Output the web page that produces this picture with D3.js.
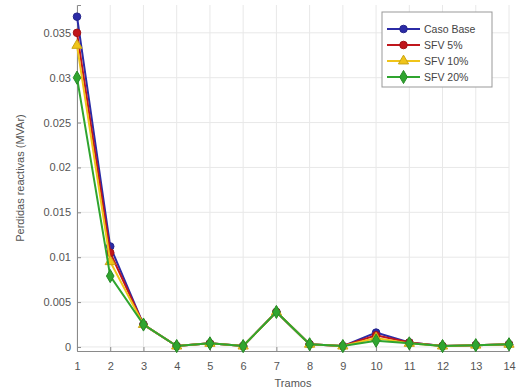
<!DOCTYPE html>
<html><head><meta charset="utf-8">
<script src="https://cdn.jsdelivr.net/npm/d3@7"></script>
<style>body{margin:0;background:#fff;} text{font-family:"Liberation Sans",Arial,sans-serif;}</style>
</head><body><svg id="c" width="519" height="389"></svg>
<script>
const tramos = [1,2,3,4,5,6,7,8,9,10,11,12,13,14];
const casoBase = [0.0368,0.0112,0.0025,0.0001,0.0004,0.0001,0.0039,0.0003,0.0001,0.0016,0.0005,0.0001,0.0002,0.0003];
const sfv5 =     [0.0350,0.0105,0.0025,0.0001,0.0004,0.0001,0.0039,0.0003,0.0001,0.0013,0.0005,0.0001,0.0002,0.0003];
const sfv10 =    [0.0336,0.0095,0.0025,0.0001,0.0004,0.0001,0.0039,0.0003,0.0001,0.0010,0.0004,0.0001,0.0002,0.0003];
const sfv20 =    [0.0300,0.0079,0.0025,0.0001,0.0004,0.0001,0.0039,0.0003,0.0001,0.0007,0.0004,0.0001,0.0002,0.0003];
const yTicks = [0,0.005,0.01,0.015,0.02,0.025,0.03,0.035];
const yTickLabels = ["0","0.005","0.01","0.015","0.02","0.025","0.03","0.035"];
const seriesNames = ["Caso Base","SFV 5%","SFV 10%","SFV 20%"];
const seriesColors = ["#2b2ba6","#c0161c","#f0c419","#2fa52f"];
const seriesSymbols = ["circle","circle","triangle","diamond"];
const seriesData = [casoBase,sfv5,sfv10,sfv20];

const svg = d3.select("#c");
const x = d3.scaleLinear().domain([1,14]).range([77,509]);
const y = d3.scaleLinear().domain([-0.00045,0.0381]).range([351,5]);

// grid
svg.append("g").selectAll("line").data(tramos).join("line")
  .attr("x1",d=>x(d)).attr("x2",d=>x(d)).attr("y1",5).attr("y2",351)
  .attr("stroke","#e8e8e8").attr("stroke-width",1);
svg.append("g").selectAll("line").data(yTicks).join("line")
  .attr("x1",77).attr("x2",509).attr("y1",d=>y(d)).attr("y2",d=>y(d))
  .attr("stroke","#e8e8e8").attr("stroke-width",1);

// axes
const xAxis = d3.axisBottom(x).tickValues(tramos).tickFormat(d3.format("d")).tickSize(-4).tickPadding(11);
const gx = svg.append("g").attr("transform","translate(0,351)").call(xAxis);
const yAxis = d3.axisLeft(y).tickValues(yTicks).tickFormat((d,i)=>yTickLabels[i]).tickSize(-4).tickPadding(6);
const gy = svg.append("g").attr("transform","translate(77,0)").call(yAxis);
[gx,gy].forEach(g=>{
  g.select(".domain").attr("stroke","#8a8a8a");
  g.selectAll(".tick line").attr("stroke","#8a8a8a");
  g.selectAll("text").attr("fill","#555").style("font-size","11px");
});

// lines
const line = d3.line().x((d,i)=>x(tramos[i])).y(d=>y(d));
const symGen = t => d3.symbol().type(t==="circle"?d3.symbolCircle:t==="triangle"?d3.symbolTriangle:d3.symbolDiamond).size(t==="diamond"?50:45);
seriesData.forEach((vals,k)=>{
  svg.append("path").datum(vals).attr("d",line).attr("fill","none")
    .attr("stroke",seriesColors[k]).attr("stroke-width",2);
  svg.append("g").selectAll("path").data(vals).join("path")
    .attr("transform",(d,i)=>`translate(${x(tramos[i])},${y(d)})`)
    .attr("d",symGen(seriesSymbols[k])())
    .attr("fill",seriesColors[k]).attr("stroke",d3.color(seriesColors[k]).darker(0.5)).attr("stroke-width",1);
});

// labels
svg.append("text").attr("x",293).attr("y",387).attr("text-anchor","middle")
  .attr("fill","#555").style("font-size","11px").text("Tramos");
svg.append("text").attr("transform","translate(24,178) rotate(-90)").attr("text-anchor","middle")
  .attr("fill","#555").style("font-size","11px").text("Perdidas reactivas (MVAr)");

// legend
const lg = svg.append("g");
lg.append("rect").attr("x",382).attr("y",12).attr("width",110).attr("height",75)
  .attr("fill","#fff").attr("stroke","#999").attr("stroke-width",1);
seriesNames.forEach((n,k)=>{
  const yy = 29 + k*16;
  lg.append("line").attr("x1",387).attr("x2",420).attr("y1",yy).attr("y2",yy)
    .attr("stroke",seriesColors[k]).attr("stroke-width",2);
  lg.append("path").attr("transform",`translate(403.5,${yy})`).attr("d",symGen(seriesSymbols[k])())
    .attr("fill",seriesColors[k]).attr("stroke",d3.color(seriesColors[k]).darker(0.5));
  lg.append("text").attr("x",424).attr("y",yy+4).attr("fill","#444").style("font-size","10.5px").text(n);
});
</script></body></html>
